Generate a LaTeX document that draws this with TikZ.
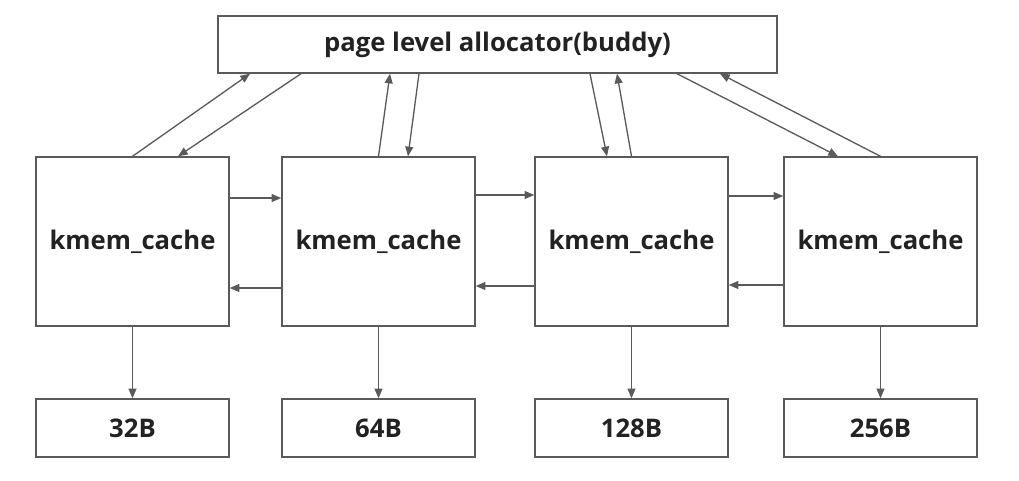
\documentclass[tikz,border=0pt]{standalone}
\usepackage{fontspec}
\setmainfont{Open Sans}
\usepackage{tikz}
\usetikzlibrary{arrows.meta, positioning, calc}
\definecolor{linegray}{HTML}{5A5A5A}
\definecolor{textdark}{HTML}{222222}

\begin{document}
\begin{tikzpicture}[
    box/.style={rectangle, draw=linegray, line width=0.8pt, inner sep=0pt, minimum width=3.86cm, font=\bfseries\fontsize{14.6}{17}\selectfont, text=textdark},
    cache/.style={box, minimum height=3.38cm},
    size/.style={box, minimum height=1.16cm},
    link/.style={draw=linegray, line width=0.75pt, -{Triangle[length=5.5pt, width=4.5pt]}}
]
\useasboundingbox (0,0) rectangle (20.38,9.6);
\node[box, minimum width=11.18cm, minimum height=1.14cm] (buddy) at (9.95, 8.71) {page level allocator(buddy)};
\node[cache] (k32) at (2.65, 4.77) {kmem\_cache};
\node[cache] (k64) at (7.57, 4.77) {kmem\_cache};
\node[cache] (k128) at (12.63, 4.77) {kmem\_cache};
\node[cache] (k256) at (17.61, 4.77) {kmem\_cache};
\node[size] (b32) at (2.65, 1.04) {32B};
\node[size] (b64) at (7.57, 1.04) {64B};
\node[size] (b128) at (12.63, 1.04) {128B};
\node[size] (b256) at (17.61, 1.04) {256B};
% to and from the page allocator
\draw[link] (k32.north) -- ([xshift=-4.95cm]buddy.south);
\draw[link] ([xshift=-3.93cm]buddy.south) -- ([xshift=0.91cm]k32.north);
\draw[link] (k64.north) -- ([xshift=-2.15cm]buddy.south);
\draw[link] ([xshift=-1.57cm]buddy.south) -- ([xshift=0.59cm]k64.north);
\draw[link] ([xshift=1.85cm]buddy.south) -- ([xshift=-0.49cm]k128.north);
\draw[link] (k128.north) -- ([xshift=2.39cm]buddy.south);
\draw[link] ([xshift=3.59cm]buddy.south) -- ([xshift=-0.85cm]k256.north);
\draw[link] (k256.north) -- ([xshift=4.45cm]buddy.south);
% between the caches
\draw[link] ([yshift=0.87cm]k32.east) -- ([yshift=0.87cm]k64.west);
\draw[link] ([yshift=-0.93cm]k64.west) -- ([yshift=-0.93cm]k32.east);
\draw[link] ([yshift=0.93cm]k64.east) -- ([yshift=0.93cm]k128.west);
\draw[link] ([yshift=-0.89cm]k128.west) -- ([yshift=-0.89cm]k64.east);
\draw[link] ([yshift=0.91cm]k128.east) -- ([yshift=0.91cm]k256.west);
\draw[link] ([yshift=-0.87cm]k256.west) -- ([yshift=-0.87cm]k128.east);
% down to the object sizes
\draw[link] (k32.south) -- (b32.north);
\draw[link] (k64.south) -- (b64.north);
\draw[link] (k128.south) -- (b128.north);
\draw[link] (k256.south) -- (b256.north);
\end{tikzpicture}
\end{document}
